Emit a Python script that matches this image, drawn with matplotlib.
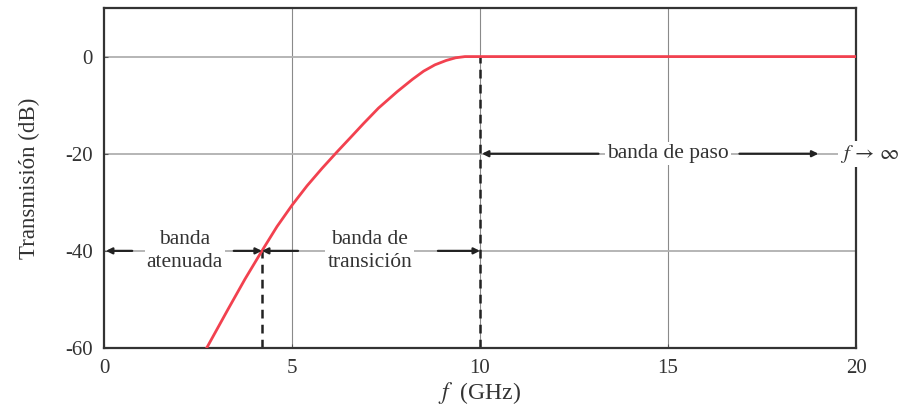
import matplotlib
matplotlib.use("Agg")
import matplotlib.pyplot as plt

plt.rcParams['font.family'] = ['Liberation Serif', 'DejaVu Serif']
plt.rcParams['mathtext.fontset'] = 'stix'

# curva de transmisión
f_ghz = [2.73, 3.3, 3.75, 4.2, 4.6, 5.0, 5.4, 5.8, 6.2, 6.6, 6.9, 7.3, 7.8, 8.2,
         8.5, 8.8, 9.1, 9.35, 9.6, 10.0, 20.0]
trans_db = [-60, -52, -45.8, -40, -35.0, -30.6, -26.6, -23, -19.6, -16.3, -13.8,
            -10.6, -7.2, -4.7, -3.0, -1.7, -0.8, -0.25, 0, 0, 0]

f_corte_at = 4.2     # límite banda atenuada
f_corte_paso = 10.0  # límite banda de paso
x_ticks = [0, 5, 10, 15, 20]
y_ticks = [0, -20, -40, -60]
y_tick_labels = ['0', '-20', '-40', '-60']

fig = plt.figure(figsize=(8.99, 4.15), dpi=100)
ax = fig.add_axes([0.1157, 0.1614, 0.8365, 0.8193])

for x in [5, 10, 15]:
    ax.axvline(x, color='#8a8a8a', lw=0.8, zorder=0)
for y in [0, -20, -40]:
    ax.axhline(y, color='#b0b0b0', lw=1.3, zorder=0)

ax.plot(f_ghz, trans_db, color='#f2414f', lw=2.0, zorder=3)

ax.plot([f_corte_at, f_corte_at], [-60, -40], color='#222222', lw=1.8,
        ls=(0, (3.5, 2.5)), zorder=2)
ax.plot([f_corte_paso, f_corte_paso], [-60, 0], color='#222222', lw=1.8,
        ls=(0, (3.5, 2.5)), zorder=2)

ap = dict(arrowstyle='-|>', color='#222222', lw=1.6, mutation_scale=9,
          shrinkA=0, shrinkB=0)
bb = dict(facecolor='white', edgecolor='none', pad=1.5)
fs = 15.5

# banda atenuada
ax.annotate('', xy=(0.05, -40), xytext=(0.75, -40), arrowprops=ap, zorder=4)
ax.annotate('', xy=(f_corte_at, -40), xytext=(3.45, -40), arrowprops=ap, zorder=4)
ax.text(2.15, -40, 'banda\natenuada', ha='center', va='center', fontsize=fs,
        color='#333333', linespacing=1.3, bbox=bb, zorder=5)

# banda de transición
ax.annotate('', xy=(f_corte_at, -40), xytext=(5.16, -40), arrowprops=ap, zorder=4)
ax.annotate('', xy=(f_corte_paso, -40), xytext=(8.88, -40), arrowprops=ap, zorder=4)
ax.text(7.07, -40, 'banda de\ntransición', ha='center', va='center', fontsize=fs,
        color='#333333', linespacing=1.3, bbox=bb, zorder=5)

# banda de paso
ax.annotate('', xy=(f_corte_paso + 0.05, -20), xytext=(13.15, -20), arrowprops=ap, zorder=4)
ax.annotate('', xy=(19.0, -20), xytext=(16.9, -20), arrowprops=ap, zorder=4)
ax.text(15.0, -20, 'banda de paso', ha='center', va='center', fontsize=fs,
        color='#333333', bbox=bb, zorder=5)
ax.text(20.35, -20, r'$f\,\rightarrow\,\infty$', ha='center', va='center',
        fontsize=15, color='#333333', bbox=bb, zorder=6, clip_on=False)

ax.set_xlim(0, 20)
ax.set_ylim(-60, 10)
ax.set_xticks(x_ticks)
ax.set_yticks(y_ticks)
ax.set_yticklabels(y_tick_labels)
ax.tick_params(direction='in', length=3, width=0.8, labelsize=15,
               labelcolor='#333333', color='#555555', pad=8)
for s in ax.spines.values():
    s.set_linewidth(1.6)
    s.set_color('#333333')

ax.set_xlabel(r'$f$  (GHz)', fontsize=17, color='#333333', labelpad=1)
ax.set_ylabel('Transmisión (dB)', fontsize=16.5, color='#333333', labelpad=18)

fig.savefig('out.png', dpi=100)
